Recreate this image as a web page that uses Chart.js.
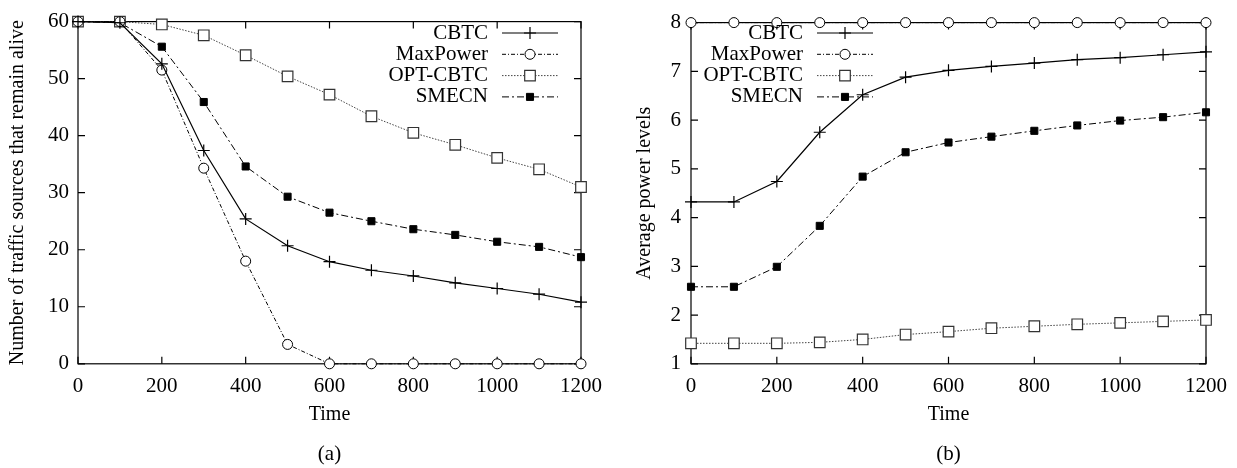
<!DOCTYPE html>
<html>
<head>
<meta charset="utf-8">
<script src="https://cdn.jsdelivr.net/npm/chart.js@4/dist/chart.umd.min.js"></script>
<style>
  body { margin: 0; background: #fff; }
  .box { position: absolute; top: 0; height: 468px; }
</style>
</head>
<body>
<div class="box" style="left:0;width:620px"><canvas id="aliveChart"></canvas></div>
<div class="box" style="left:620px;width:617px"><canvas id="powerChart"></canvas></div>
<script>
    var timeLabels = [0, 100, 200, 300, 400, 500, 600, 700, 800, 900, 1000, 1100, 1200];
    var seriesNames = ['CBTC', 'MaxPower', 'OPT-CBTC', 'SMECN'];

    // (a) traffic sources alive
    var aliveCbtc = [60, 59.8, 52.6, 37.4, 25.4, 20.7, 17.9, 16.4, 15.4, 14.2, 13.2, 12.2, 10.8];
    var aliveMaxPower = [60, 60, 51.5, 34.3, 18, 3.4, 0, 0, 0, 0, 0, 0, 0];
    var aliveOptCbtc = [60, 60, 59.5, 57.6, 54.1, 50.4, 47.2, 43.4, 40.5, 38.4, 36.1, 34.1, 31];
    var aliveSmecn = [60, 59.8, 55.6, 45.9, 34.6, 29.3, 26.5, 25, 23.6, 22.6, 21.4, 20.5, 18.7];

    // (b) average power levels
    var powerCbtc = [4.32, 4.32, 4.74, 5.75, 6.52, 6.88, 7.02, 7.1, 7.17, 7.24, 7.28, 7.34, 7.4];
    var powerMaxPower = [8, 8, 8, 8, 8, 8, 8, 8, 8, 8, 8, 8, 8];
    var powerOptCbtc = [1.42, 1.42, 1.42, 1.44, 1.5, 1.6, 1.66, 1.73, 1.77, 1.81, 1.84, 1.87, 1.9];
    var powerSmecn = [2.58, 2.58, 2.99, 3.83, 4.84, 5.34, 5.54, 5.66, 5.78, 5.89, 5.99, 6.06, 6.16];

    var serifFont = '"Liberation Serif", "DejaVu Serif", serif';

    function pts(values) {
        return timeLabels.map(function (t, i) { return { x: t, y: values[i] }; });
    }

    function makeDatasets(cbtc, maxPower, optCbtc, smecn) {
        return [{
            label: seriesNames[0], data: pts(cbtc),
            borderColor: '#000', borderWidth: 1.2, borderDash: [],
            pointStyle: 'cross', pointRadius: 6, pointBorderWidth: 1.2,
            pointBorderColor: '#000', pointBackgroundColor: '#000'
        }, {
            label: seriesNames[1], data: pts(maxPower),
            borderColor: '#000', borderWidth: 1, borderDash: [4, 2, 1, 2],
            pointStyle: 'circle', pointRadius: 5, pointBorderWidth: 1,
            pointBorderColor: '#000', pointBackgroundColor: '#fff'
        }, {
            label: seriesNames[2], data: pts(optCbtc),
            borderColor: '#444', borderWidth: 1, borderDash: [1.5, 1.5],
            pointStyle: 'rect', pointRadius: 7.5, pointBorderWidth: 1.2,
            pointBorderColor: '#333', pointBackgroundColor: '#fff'
        }, {
            label: seriesNames[3], data: pts(smecn),
            borderColor: '#000', borderWidth: 1, borderDash: [7, 3, 2, 3],
            pointStyle: 'rect', pointRadius: 5, pointBorderWidth: 1,
            pointBorderColor: '#000', pointBackgroundColor: '#000'
        }].map(function (d) {
            d.tension = 0; d.fill = false; d.clip = false; d.pointHoverRadius = d.pointRadius;
            return d;
        });
    }

    // box around the plot with inward tick marks on all four sides
    var framePlugin = {
        id: 'frame',
        beforeDatasetsDraw: function (chart) {
            var ctx = chart.ctx, a = chart.chartArea;
            var xs = chart.scales.x, ys = chart.scales.y;
            ctx.save();
            ctx.strokeStyle = '#000';
            ctx.lineWidth = 1.2;
            ctx.strokeRect(a.left, a.top, a.right - a.left, a.bottom - a.top);
            ctx.beginPath();
            xs.ticks.forEach(function (t) {
                var px = xs.getPixelForValue(t.value);
                ctx.moveTo(px, a.bottom); ctx.lineTo(px, a.bottom - 7);
                ctx.moveTo(px, a.top); ctx.lineTo(px, a.top + 7);
            });
            ys.ticks.forEach(function (t) {
                var py = ys.getPixelForValue(t.value);
                ctx.moveTo(a.left, py); ctx.lineTo(a.left + 7, py);
                ctx.moveTo(a.right, py); ctx.lineTo(a.right - 7, py);
            });
            ctx.stroke();
            ctx.restore();
        }
    };

    // gnuplot style key: text right aligned, line sample with marker to its right
    var keyPlugin = {
        id: 'key',
        afterDraw: function (chart, args, opts) {
            var ctx = chart.ctx;
            ctx.save();
            ctx.font = '21px ' + serifFont;
            ctx.textAlign = 'right';
            ctx.textBaseline = 'middle';
            chart.data.datasets.forEach(function (ds, i) {
                var y = opts.y + i * opts.gap;
                ctx.fillStyle = '#000';
                ctx.fillText(ds.label, opts.x, y);
                var x0 = opts.x + 14, x1 = x0 + opts.len;
                ctx.strokeStyle = ds.borderColor;
                ctx.lineWidth = ds.borderWidth;
                ctx.setLineDash(ds.borderDash);
                ctx.beginPath();
                ctx.moveTo(x0, y); ctx.lineTo(x1, y);
                ctx.stroke();
                ctx.setLineDash([]);
                ctx.strokeStyle = ds.pointBorderColor;
                ctx.fillStyle = ds.pointBackgroundColor;
                ctx.lineWidth = ds.pointBorderWidth;
                Chart.helpers.drawPoint(ctx, {
                    pointStyle: ds.pointStyle, radius: ds.pointRadius,
                    borderWidth: ds.pointBorderWidth, rotation: 0
                }, (x0 + x1) / 2, y);
            });
            ctx.restore();
        }
    };

    function plain(v) { return String(v); }

    function makeChart(id, datasets, yOpts, caption, yWidth, rightPad, keyX) {
        var ctx = document.getElementById(id).getContext('2d');
        return new Chart(ctx, {
            type: 'line',
            data: { datasets: datasets },
            plugins: [framePlugin, keyPlugin],
            options: {
                responsive: true,
                maintainAspectRatio: false,
                animation: false,
                events: [],
                layout: { padding: { top: 17, right: rightPad, bottom: 1, left: 0 } },
                plugins: {
                    legend: { display: false },
                    tooltip: { enabled: false },
                    title: {
                        display: true, position: 'bottom', fullSize: false, text: caption, color: '#000',
                        font: { family: serifFont, size: 21, weight: 'normal', lineHeight: 1.2 },
                        padding: { top: 0, bottom: 0 }
                    },
                    key: { x: keyX, y: 33, gap: 21.3, len: 56 }
                },
                scales: {
                    x: {
                        type: 'linear', min: 0, max: 1200,
                        grid: { display: false, drawTicks: false },
                        border: { display: false },
                        ticks: { stepSize: 200, padding: 10, color: '#000', maxRotation: 0,
                                 callback: plain, font: { family: serifFont, size: 21 } },
                        title: { display: true, text: 'Time', color: '#000',
                                 font: { family: serifFont, size: 20 },
                                 padding: { top: 4, bottom: 15 } },
                        afterFit: function (s) { s.height = 78; }
                    },
                    y: Object.assign({
                        grid: { display: false, drawTicks: false },
                        border: { display: false },
                        afterFit: function (s) { s.width = yWidth; }
                    }, yOpts)
                }
            }
        });
    }

    makeChart('aliveChart', makeDatasets(aliveCbtc, aliveMaxPower, aliveOptCbtc, aliveSmecn), {
        min: 0, max: 60,
        ticks: { stepSize: 10, padding: 9, color: '#000', callback: plain,
                 font: { family: serifFont, size: 21 } },
        title: { display: true, text: 'Number of traffic sources that remain alive', color: '#000',
                 font: { family: serifFont, size: 20 }, padding: { top: 6, bottom: 4 } }
    }, '(a)', 78, 39, 488);

    makeChart('powerChart', makeDatasets(powerCbtc, powerMaxPower, powerOptCbtc, powerSmecn), {
        min: 1, max: 8,
        ticks: { stepSize: 1, padding: 10, color: '#000', callback: plain,
                 font: { family: serifFont, size: 21 } },
        title: { display: true, text: 'Average power levels', color: '#000',
                 font: { family: serifFont, size: 20 }, padding: { top: 13, bottom: 4 } }
    }, '(b)', 71, 31, 183);
</script>
</body>
</html>
